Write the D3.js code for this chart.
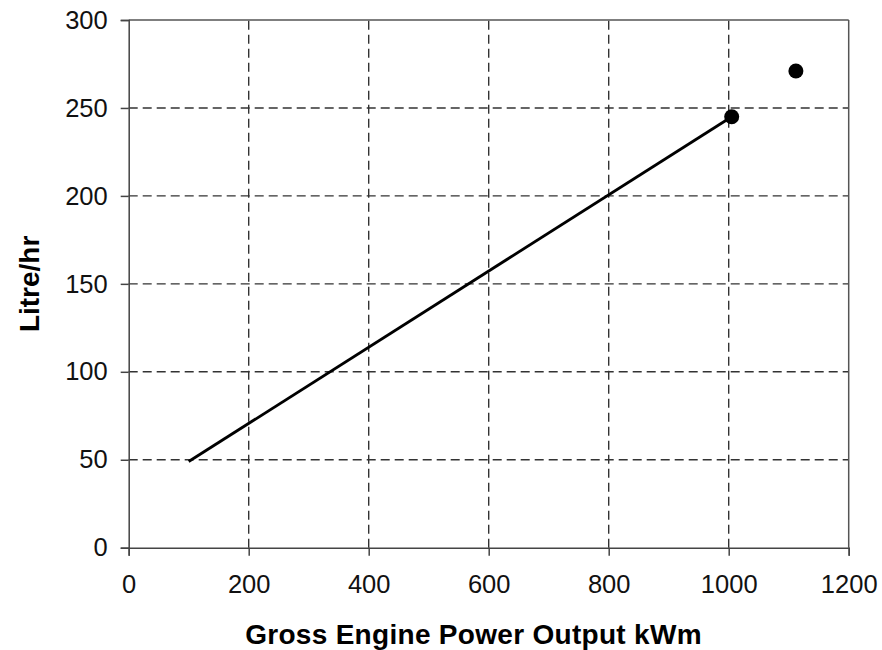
<!DOCTYPE html>
<html><head><meta charset="utf-8">
<script src="https://cdn.jsdelivr.net/npm/d3@7"></script>
<style>body{margin:0;background:#fff;} svg{display:block;}</style>
</head><body>
<script>
const lineX = [100, 1005];
const lineY = [49, 245];
const pointX = [1005, 1112];
const pointY = [245, 271];
const xTicks = [0, 200, 400, 600, 800, 1000, 1200];
const yTicks = [0, 50, 100, 150, 200, 250, 300];
const xTitle = "Gross Engine Power Output kWm";
const yTitle = "Litre/hr";

const W = 882, H = 650;
const m = {left: 128.7, right: 33.3, top: 20, bottom: 102.3};
const svg = d3.select("body").append("svg").attr("width", W).attr("height", H);
const x = d3.scaleLinear().domain([0, 1200]).range([m.left, W - m.right]);
const y = d3.scaleLinear().domain([0, 300]).range([H - m.bottom, m.top]);
const font = "Liberation Sans, Arial, sans-serif";

// grid
svg.append("g").selectAll("line").data(xTicks.slice(1, -1)).join("line")
  .attr("x1", d => x(d)).attr("x2", d => x(d)).attr("y1", y(0)).attr("y2", y(300))
  .attr("stroke", "#333").attr("stroke-width", 1.4).attr("stroke-dasharray", "9,5");
svg.append("g").selectAll("line").data(yTicks.slice(1, -1)).join("line")
  .attr("y1", d => y(d)).attr("y2", d => y(d)).attr("x1", x(0)).attr("x2", x(1200))
  .attr("stroke", "#333").attr("stroke-width", 1.4).attr("stroke-dasharray", "9,5");

// frame top/right
svg.append("line").attr("x1", x(0)).attr("x2", x(1200)).attr("y1", y(300)).attr("y2", y(300))
  .attr("stroke", "#555").attr("stroke-width", 1.5);
svg.append("line").attr("x1", x(1200)).attr("x2", x(1200)).attr("y1", y(0)).attr("y2", y(300))
  .attr("stroke", "#555").attr("stroke-width", 1.5);

// axes
const xAxis = svg.append("g").attr("transform", `translate(0,${y(0)})`)
  .call(d3.axisBottom(x).tickValues(xTicks).tickSize(8).tickPadding(19).tickFormat(d3.format("d")));
const yAxis = svg.append("g").attr("transform", `translate(${x(0)},0)`)
  .call(d3.axisLeft(y).tickValues(yTicks).tickSize(8).tickPadding(13).tickFormat(d3.format("d")));
[xAxis, yAxis].forEach(g => {
  g.select(".domain").attr("stroke", "#444").attr("stroke-width", 1.5);
  g.selectAll(".tick line").attr("stroke", "#444").attr("stroke-width", 1.5);
  g.selectAll("text").attr("font-family", font).attr("font-size", 25.5).attr("fill", "#111");
});

// line
const lineData = lineX.map((d, i) => [d, lineY[i]]);
svg.append("path").datum(lineData)
  .attr("d", d3.line().x(d => x(d[0])).y(d => y(d[1])))
  .attr("fill", "none").attr("stroke", "#000").attr("stroke-width", 2.8);

// points
svg.append("g").selectAll("circle").data(pointX.map((d, i) => [d, pointY[i]])).join("circle")
  .attr("cx", d => x(d[0])).attr("cy", d => y(d[1])).attr("r", 7.5).attr("fill", "#000");

// titles
svg.append("text").attr("x", 473.5).attr("y", 644).attr("text-anchor", "middle")
  .attr("font-family", font).attr("font-weight", "bold").attr("font-size", 28).attr("letter-spacing", 0.3).attr("fill", "#000")
  .text(xTitle);
svg.append("text").attr("transform", `translate(39,${(y(0)+y(300))/2}) rotate(-90)`)
  .attr("text-anchor", "middle")
  .attr("font-family", font).attr("font-weight", "bold").attr("font-size", 28).attr("fill", "#000")
  .text(yTitle);
</script>
</body></html>
